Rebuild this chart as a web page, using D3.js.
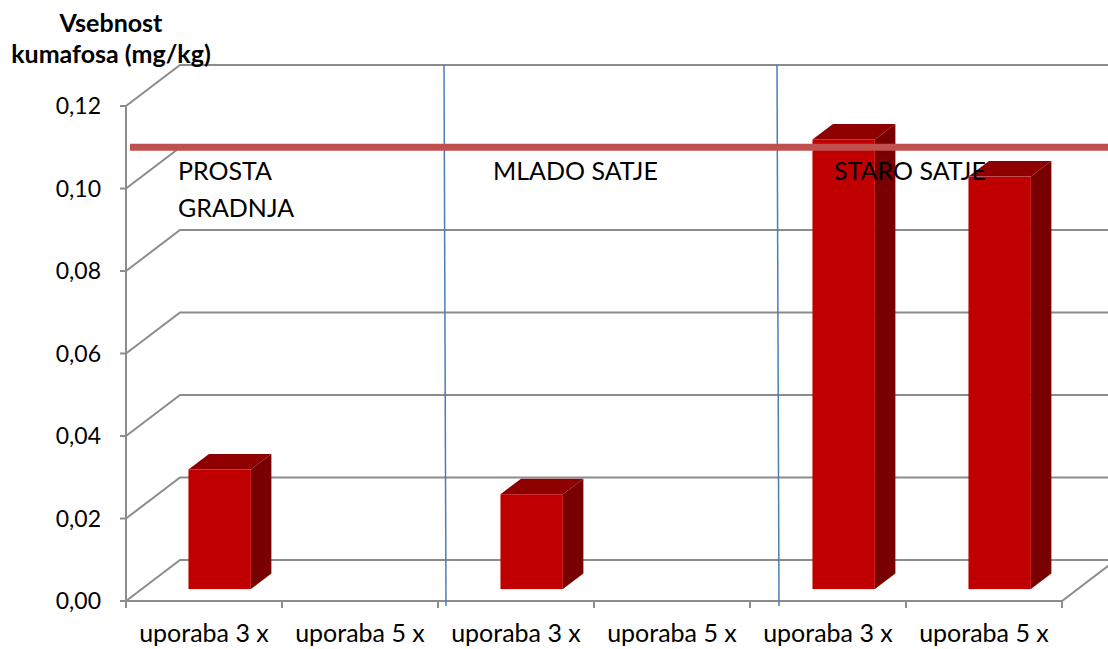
<!DOCTYPE html>
<html>
<head>
<meta charset="utf-8">
<script src="https://cdn.jsdelivr.net/npm/d3@7"></script>
<style>
  body { margin: 0; background: #fff; }
  text { font-family: Lato, "Open Sans", sans-serif; fill: #000; }
</style>
</head>
<body>
<script>
// chart data
var categories = ["uporaba 3 x", "uporaba 5 x", "uporaba 3 x", "uporaba 5 x", "uporaba 3 x", "uporaba 5 x"];
var values = [0.029, 0, 0.023, 0, 0.109, 0.10];
var yTicks = [0, 0.02, 0.04, 0.06, 0.08, 0.10, 0.12];
var groups = ["PROSTA\nGRADNJA", "MLADO SATJE", "STARO SATJE"];
var groupStart = [0, 2, 4];
var limitValue = 0.11;
var titleLines = ["Vsebnost", "kumafosa (mg/kg)"];

var width = 1108, height = 649;

// 3d wall offset
var depthX = 54, depthY = -41;
// bar sits between these depth fractions
var f1 = 0.29, f2 = 0.67;

var svg = d3.select("body").append("svg")
  .attr("width", width)
  .attr("height", height);

var x = d3.scaleBand()
  .domain(d3.range(categories.length))
  .range([126, 1062])
  .padding(0);

var y = d3.scaleLinear()
  .domain([0, 0.12])
  .range([601, 106]);

var fmt = function(d){ return d3.format(".2f")(d).replace(".", ","); };

var grid = svg.append("g")
  .attr("stroke", "#8c8c8c")
  .attr("stroke-width", 2)
  .attr("fill", "none");

// left wall diagonals + back wall lines
yTicks.forEach(function(t){
  var x0 = x.range()[0], yy = y(t);
  grid.append("path")
    .attr("d", "M" + x0 + "," + yy + "L" + (x0 + depthX) + "," + (yy + depthY) +
      "L" + (x.range()[1] + depthX) + "," + (yy + depthY));
});

// floor front edge and right edge
grid.append("path")
  .attr("d", "M" + x.range()[0] + "," + y(0) + "L" + x.range()[1] + "," + y(0) +
    "L" + (x.range()[1] + depthX) + "," + (y(0) + depthY));

// front value axis
grid.append("line")
  .attr("x1", x.range()[0]).attr("x2", x.range()[0])
  .attr("y1", y(0.12)).attr("y2", y(0));

// y ticks + labels
yTicks.forEach(function(t){
  grid.append("line")
    .attr("x1", x.range()[0] - 6).attr("x2", x.range()[0])
    .attr("y1", y(t)).attr("y2", y(t));
  svg.append("text")
    .attr("x", 101)
    .attr("y", y(t) + 8)
    .attr("text-anchor", "end")
    .style("font-size", "23px")
    .text(fmt(t));
});

// x ticks
d3.range(categories.length + 1).forEach(function(i){
  var xx = i < categories.length ? x(i) : x.range()[1];
  grid.append("line")
    .attr("x1", xx).attr("x2", xx)
    .attr("y1", y(0)).attr("y2", y(0) + 7);
});

// category labels
svg.selectAll(".cat")
  .data(categories)
  .enter().append("text")
  .attr("class", "cat")
  .attr("x", function(d, i){ return x(i) + x.bandwidth() / 2; })
  .attr("y", 642)
  .attr("text-anchor", "middle")
  .style("font-size", "25px")
  .text(function(d){ return d; });

// bars
var barW = x.bandwidth() * 0.4;
var ddx = (f2 - f1) * depthX, ddy = (f2 - f1) * depthY;

values.forEach(function(v, i){
  if (v <= 0) return;
  var x1 = x(i) + f1 * depthX + (x.bandwidth() - barW) / 2,
      x2 = x1 + barW,
      yb = y(0) + f1 * depthY,
      yt = y(v) + f1 * depthY;
  var g = svg.append("g");
  // top
  g.append("path")
    .attr("d", "M" + x1 + "," + yt + "L" + x2 + "," + yt + "L" + (x2 + ddx) + "," + (yt + ddy) +
      "L" + (x1 + ddx) + "," + (yt + ddy) + "Z")
    .attr("fill", "#8e0000");
  // side
  g.append("path")
    .attr("d", "M" + x2 + "," + yt + "L" + (x2 + ddx) + "," + (yt + ddy) + "L" + (x2 + ddx) + "," + (yb + ddy) +
      "L" + x2 + "," + yb + "Z")
    .attr("fill", "#780000");
  // front
  g.append("rect")
    .attr("x", x1).attr("y", yt)
    .attr("width", barW).attr("height", yb - yt)
    .attr("fill", "#c00000");
});

// group separators (hand drawn in the original, not exactly on ticks)
var sepDx = [6, 27];
[2, 4].forEach(function(i, k){
  svg.append("line")
    .attr("x1", x(i) + sepDx[k]).attr("x2", x(i) + sepDx[k] + 2)
    .attr("y1", y(0.12) + depthY).attr("y2", y(0) + 5)
    .attr("stroke", "#4a7ebb")
    .attr("stroke-width", 1.5);
});

// limit line
svg.append("line")
  .attr("x1", x.range()[0] + 4).attr("x2", width)
  .attr("y1", y(limitValue)).attr("y2", y(limitValue))
  .attr("stroke", "#c0504d")
  .attr("stroke-width", 7);

// group labels
var groupDx = [52, 55, 84];
groups.forEach(function(gname, k){
  var t = svg.append("text")
    .attr("x", x(groupStart[k]) + groupDx[k])
    .attr("y", 180)
    .style("font-size", "25px");
  gname.split("\n").forEach(function(line, j){
    t.append("tspan")
      .attr("x", x(groupStart[k]) + groupDx[k])
      .attr("dy", j === 0 ? 0 : 37)
      .text(line);
  });
});

// axis title
titleLines.forEach(function(line, j){
  svg.append("text")
    .attr("x", 111)
    .attr("y", 32 + j * 31)
    .attr("text-anchor", "middle")
    .style("font-size", "25px")
    .style("font-weight", "bold")
    .text(line);
});
</script>
</body>
</html>
